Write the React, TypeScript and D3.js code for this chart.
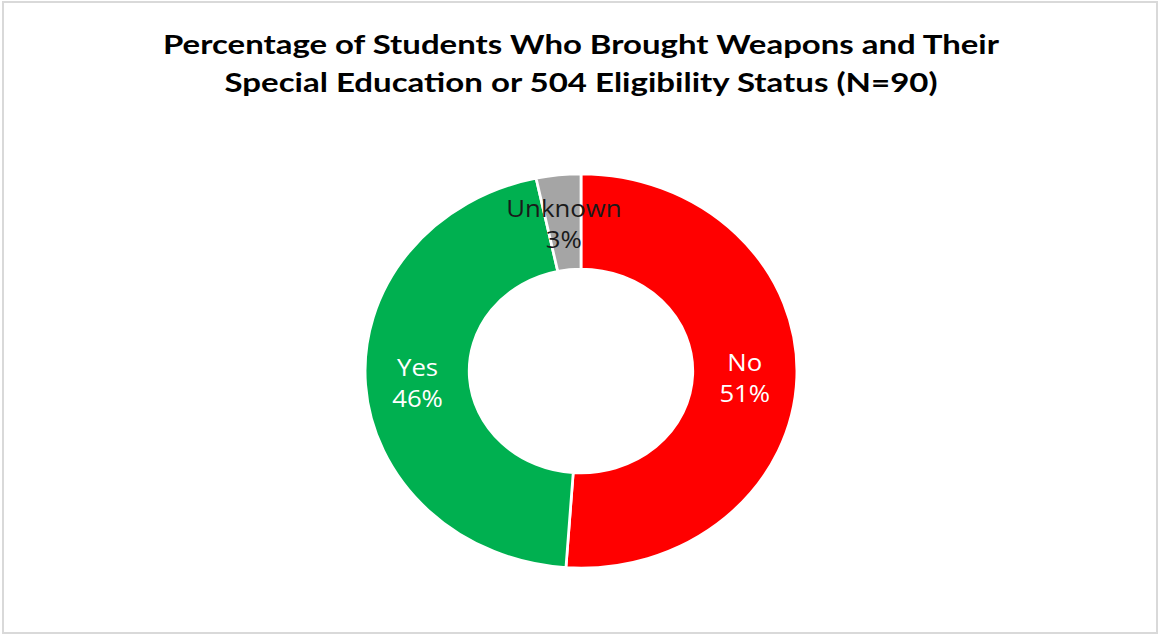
import React from "react";
import * as d3 from "d3";

const categories = ["No", "Yes", "Unknown"];
const counts = [46, 41, 3];
const percentLabels = ["51%", "46%", "3%"];
const colors = ["#ff0000", "#00b050", "#a5a5a5"];
const labelColors = ["#ffffff", "#ffffff", "#1a1a1a"];
const titleLines = [
  "Percentage of Students Who Brought Weapons and Their",
  "Special Education or 504 Eligibility Status (N=90)",
];

const W = 1160;
const H = 636;
const cx = 581;
const cy = 371;
const rOuter = 197;
const rInner = 102;
const sx = 1.096;

export default function App() {
  const pie = d3
    .pie<number>()
    .sort(null)
    .value((d) => d)
    .startAngle(0)
    .endAngle(2 * Math.PI);
  const arcs = pie(counts);
  const arc = d3.arc<d3.PieArcDatum<number>>().innerRadius(rInner).outerRadius(rOuter);
  const labelArc = d3
    .arc<d3.PieArcDatum<number>>()
    .innerRadius((rInner + rOuter) / 2)
    .outerRadius((rInner + rOuter) / 2);

  return (
    <svg
      width={W}
      height={H}
      style={{ position: "absolute", left: 0, top: 0, background: "#fff" }}
    >
      <rect x={0} y={0} width={W} height={H} fill="#ffffff" />
      <rect x={3} y={2} width={1154} height={631} fill="none" stroke="#d9d9d9" strokeWidth={2} />
      <g fontFamily="Lato, 'Open Sans', sans-serif" fontWeight={700} fontSize={26.5} fill="#000">
        <text x={581} y={54} textAnchor="middle" textLength={836} lengthAdjust="spacingAndGlyphs">
          {titleLines[0]}
        </text>
        <text x={581} y={92} textAnchor="middle" textLength={713} lengthAdjust="spacingAndGlyphs">
          {titleLines[1]}
        </text>
      </g>
      <g transform={`translate(${cx},${cy}) scale(${sx},1)`}>
        {arcs.map((a, i) => (
          <path key={categories[i]} d={arc(a) || ""} fill={colors[i]} stroke="#ffffff" strokeWidth={2.5} />
        ))}
      </g>
      {arcs.map((a, i) => {
        const [lx, ly] = labelArc.centroid(a);
        const x = cx + lx * sx;
        const y = cy + ly;
        return (
          <g
            key={"l" + categories[i]}
            transform={`translate(${x},${y}) scale(${sx},1)`}
            fontFamily="'Open Sans', sans-serif"
            fontSize={23.5}
            fill={labelColors[i]}
            textAnchor="middle"
          >
            <text x={0} y={-5}>{categories[i]}</text>
            <text x={0} y={26}>{percentLabels[i]}</text>
          </g>
        );
      })}
    </svg>
  );
}
